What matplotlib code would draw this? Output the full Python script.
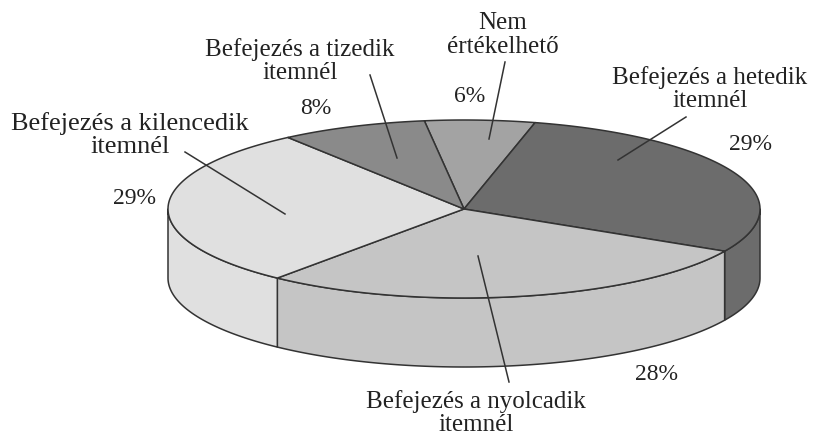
import numpy as np
import matplotlib
matplotlib.use("Agg")
import matplotlib.pyplot as plt
from matplotlib.patches import Polygon

labels = ["Nem\nértékelhető", "Befejezés a hetedik\nitemnél", "Befejezés a nyolcadik\nitemnél",
          "Befejezés a kilencedik\nitemnél", "Befejezés a tizedik\nitemnél"]
values = [6, 29, 28, 29, 8]
colors = ["#a3a3a3", "#6c6c6c", "#c5c5c5", "#e0e0e0", "#8a8a8a"]

# where the labels and leader lines go, in pixels
label_pos = [(503, 35), (710, 89), (476, 413), (130, 135), (300, 61)]
label_size = [18, 18, 18, 19, 18]
pct_pos = [(470, 96), (751, 144), (657, 375), (135, 199), (316, 109)]
leaders = [((505, 62), (489, 139)), ((686, 117), (618, 160)), ((478, 256), (509, 382)),
           ((185, 152), (285, 214)), ((370, 75), (397, 158))]

cx, cy = 464, 209
rx, ry = 296, 89
depth = 69
start = 97.7
line = "#333333"

plt.rcParams['font.family'] = ['Liberation Serif', 'DejaVu Serif']

fig = plt.figure(figsize=(8.14, 4.37), dpi=100)
ax = fig.add_axes([0, 0, 1, 1])
ax.set_xlim(0, 814)
ax.set_ylim(437, 0)
ax.axis('off')


def rim(a0, a1):
    t = np.radians(np.linspace(a0, a1, 200))
    return np.column_stack([cx + rx * np.cos(t), cy - ry * np.sin(t)])


# angles run clockwise from the start
edges = start - np.cumsum([0] + values) * 3.6

# side wall first, only the front half shows
for i in range(len(values)):
    a0 = min(edges[i], 0)
    a1 = max(edges[i + 1], -180)
    if a1 >= a0:
        continue
    top = rim(a0, a1)
    bottom = top[::-1] + [0, depth]
    ax.add_patch(Polygon(np.vstack([top, bottom]), closed=True, fc=colors[i], ec=line, lw=1.1, joinstyle='round'))

# top face
for i in range(len(values)):
    pts = np.vstack([[cx, cy], rim(edges[i], edges[i + 1])])
    ax.add_patch(Polygon(pts, closed=True, fc=colors[i], ec=line, lw=1.1, joinstyle='round'))

for (p0, p1) in leaders:
    ax.plot([p0[0], p1[0]], [p0[1], p1[1]], color=line, lw=1.1)

for name, pos, size in zip(labels, label_pos, label_size):
    ax.text(pos[0], pos[1], name, ha='center', va='center', fontsize=size, color="#222222", linespacing=1.08)

for v, pos in zip(values, pct_pos):
    ax.text(pos[0], pos[1], f"{v}%", ha='center', va='center', fontsize=17, color="#222222")

fig.savefig("out.png", dpi=100)
